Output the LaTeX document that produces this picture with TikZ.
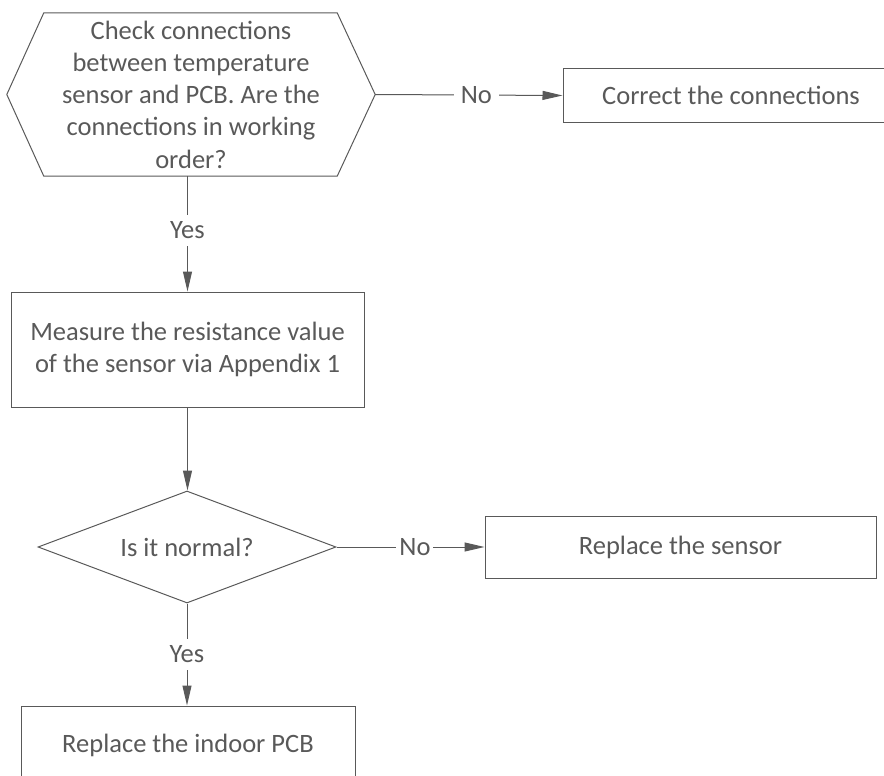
\documentclass[tikz,border=0pt]{standalone}
\usepackage{fontspec}
\setmainfont{Carlito}
\usetikzlibrary{arrows.meta,shapes.geometric}
\definecolor{lc}{HTML}{595959}
\begin{document}
\begin{tikzpicture}[x=1pt,y=-1pt,
  every node/.style={font=\fontsize{26.5}{32.3}\selectfont, text=lc},
  box/.style={draw=lc, line width=1pt, rectangle, inner sep=0pt, align=center},
  conn/.style={draw=lc, line width=1pt, -{Triangle[length=20pt,width=9pt]}, fill=lc},
  lbl/.style={fill=white, inner sep=0pt, text=lc}]
\useasboundingbox (0,0) rectangle (884,776);
\clip (0,0) rectangle (884,776);
% hexagon decision
\node[inner sep=0pt, minimum width=368pt, minimum height=163pt, align=center] (q1) at (191,94.5)
  {Check connections\\between temperature\\sensor and PCB. Are the\\connections in working\\order?};
\draw[lc, line width=1pt] (q1.west) -- ([xshift=37pt]q1.north west) -- ([xshift=-38pt]q1.north east)
  -- (q1.east) -- ([xshift=-38pt]q1.south east) -- ([xshift=37pt]q1.south west) -- cycle;
\node[box, minimum width=336pt, minimum height=53pt] (cc) at (731,95.5) {Correct the connections};
\node[box, minimum width=353pt, minimum height=115pt] (meas) at (187.5,349.5)
  {Measure the resistance value\\of the sensor via Appendix 1};
\node[draw=lc, line width=1pt, diamond, aspect=2.66, inner sep=0pt, minimum width=298pt, minimum height=112pt] (q2) at (187,547) {Is it normal?};
\node[box, minimum width=391pt, minimum height=62pt] (sens) at (680.5,547) {Replace the sensor};
\node[box, minimum width=334pt, minimum height=78pt] (pcb) at (188,745) {Replace the indoor PCB};
% connectors
\path[conn] (q1.east) -- node[lbl, pos=0.54, inner xsep=7pt, inner ysep=4pt] (n1) {No} (cc.west);
\path[conn] (q1.south -| meas.north) -- node[lbl, pos=0.47, inner xsep=4pt, inner ysep=7pt] (y1) {Yes} (meas.north);
\path[conn] (meas.south) -- (meas.south |- q2.north);
\path[conn] (q2.east) -- node[lbl, pos=0.53, inner xsep=3pt, inner ysep=4pt] (n2) {No} (sens.west);
\path[conn] (q2.south) -- node[lbl, pos=0.5, inner xsep=4pt, inner ysep=7pt] (y2) {Yes} (q2.south |- pcb.north);
\end{tikzpicture}
\end{document}
